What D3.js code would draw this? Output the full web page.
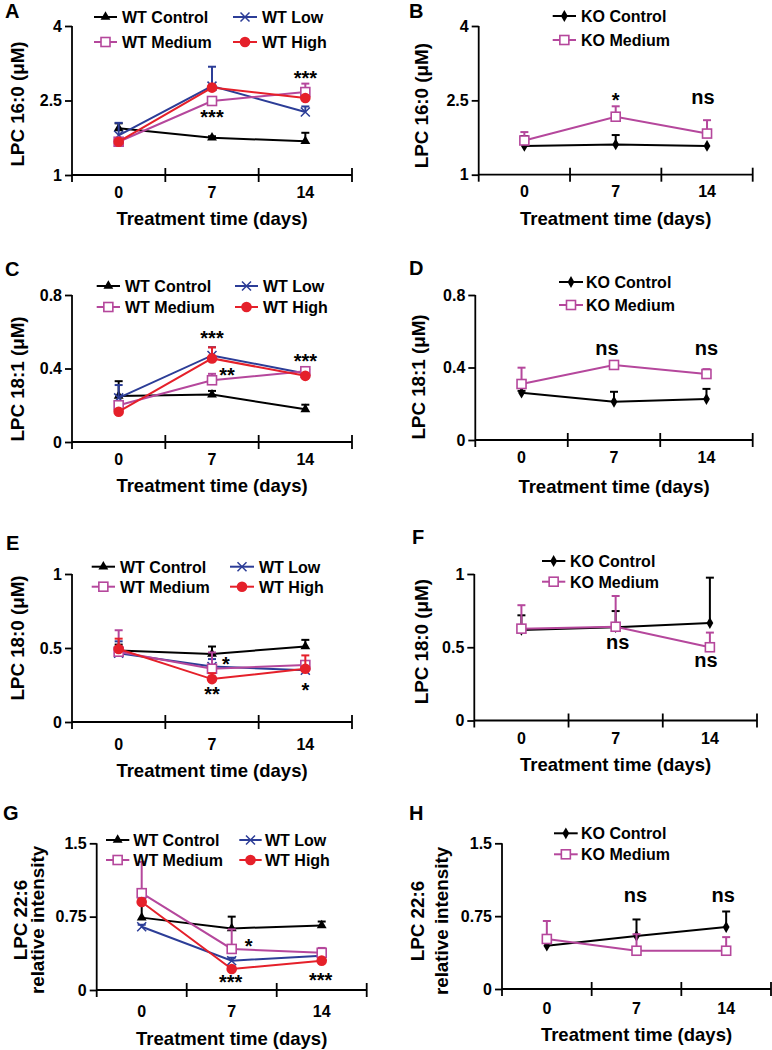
<!DOCTYPE html>
<html><head><meta charset="utf-8">
<script src="https://cdn.jsdelivr.net/npm/d3@7"></script>
<style>
html,body{margin:0;padding:0;background:#fff;}
svg text{font-family:"Liberation Sans",Arial,Helvetica,sans-serif;font-weight:bold;fill:#000;}
</style></head>
<body>
<svg id="chart" width="772" height="1050"></svg>
<script>
// ---------- data ----------
const days = ["0", "7", "14"];
const wtNames = ["WT Control", "WT Low", "WT Medium", "WT High"];
const koNames = ["KO Control", "KO Medium"];
const xTitle = "Treatment time (days)";

// LPC 16:0 (A: WT, B: KO)  rows follow wtNames / koNames
const A_mean = [[1.94, 1.75, 1.68], [1.80, 2.79, 2.27], [1.67, 2.49, 2.67], [1.67, 2.76, 2.55]];
const A_err  = [[0.10, 0.03, 0.17], [0.25, 0.39, 0.11], [0.05, 0.05, 0.17], [0.03, 0.05, 0.04]];
const B_mean = [[1.58, 1.61, 1.58], [1.69, 2.17, 1.83]];
const B_err  = [[0.20, 0.19, 0.00], [0.17, 0.21, 0.27]];
const AB_yTicks = [1, 2.5, 4];

// LPC 18:1 (C: WT, D: KO)
const C_mean = [[0.251, 0.258, 0.178], [0.24, 0.471, 0.373], [0.20, 0.336, 0.385], [0.165, 0.455, 0.36]];
const C_err  = [[0.08, 0.02, 0.025], [0.07, 0.045, 0.01], [0.01, 0.035, 0.02], [0.01, 0.06, 0.01]];
const D_mean = [[0.261, 0.211, 0.226], [0.309, 0.414, 0.364]];
const D_err  = [[0.01, 0.055, 0.056], [0.09, 0.02, 0.027]];
const CD_yTicks = [0, 0.4, 0.8];

// LPC 18:0 (E: WT, F: KO)
const E_mean = [[0.483, 0.46, 0.51], [0.465, 0.375, 0.35], [0.475, 0.36, 0.385], [0.493, 0.29, 0.36]];
const E_err  = [[0.04, 0.05, 0.045], [0.08, 0.05, 0.01], [0.145, 0.11, 0.02], [0.07, 0.04, 0.09]];
const F_mean = [[0.618, 0.637, 0.665], [0.627, 0.64, 0.50]];
const F_err  = [[0.10, 0.11, 0.31], [0.16, 0.21, 0.10]];
const EF_yTicks = [0, 0.5, 1];

// LPC 22:6 (G: WT, H: KO)
const G_mean = [[0.74, 0.63, 0.66], [0.647, 0.30, 0.35], [0.99, 0.42, 0.38], [0.90, 0.215, 0.30]];
const G_err  = [[0.20, 0.12, 0.04], [0.02, 0.03, 0.01], [0.32, 0.20, 0.05], [0.02, 0.01, 0.02]];
const H_mean = [[0.446, 0.546, 0.638], [0.515, 0.394, 0.394]];
const H_err  = [[0.11, 0.17, 0.16], [0.185, 0.17, 0.14]];
const GH_yTicks = [0, 0.75, 1.5];

// significance labels
const A_sig = ["***", "***"];
const B_sig = ["*", "ns"];
const C_sig = ["***", "**", "***"];
const D_sig = ["ns", "ns"];
const E_sig = ["*", "**", "*"];
const F_sig = ["ns", "ns"];
const G_sig = ["*", "***", "***"];
const H_sig = ["ns", "ns"];

// ---------- styles ----------
const BLUE = "#2c3d97", MAG = "#b5479c", RED = "#e5202a";
const wtStyle = [
  {color: "#000", marker: "triangle"},
  {color: BLUE, marker: "x"},
  {color: MAG, marker: "square"},
  {color: RED, marker: "circle"}
];
const koStyle = [
  {color: "#000", marker: "diamond"},
  {color: MAG, marker: "square"}
];

const wtLegend = (c1, c2, r1, r2) => ({pos: [[c1, r1], [c2, r1], [c1, r2], [c2, r2]]});
const koLegend = (c, r1, r2) => ({pos: [[c, r1], [c, r2]]});

const panels = [
  {id: "A", names: wtNames, style: wtStyle, mean: A_mean, err: A_err, ticks: AB_yTicks,
   box: {l: 72, r: 352, t: 26, b: 175}, ylab: [["LPC 16:0 (\u03bcM)", 17]], ylabY: 104,
   label: [5, 11], legend: wtLegend([94, 117, 122], [233, 257, 262], 17, 42),
   notes: [[A_sig[0], 1, 2.25, 0], [A_sig[1], 2, 3.03, 0]], tickOff: 17, titleOff: 43.3},
  {id: "B", names: koNames, style: koStyle, mean: B_mean, err: B_err, ticks: AB_yTicks,
   box: {l: 478.7, r: 752.7, t: 26, b: 174.7}, ylab: [["LPC 16:0 (\u03bcM)", 421.7]], ylabY: 105.7,
   label: [409, 11], legend: koLegend([552.7, 576, 581], 16, 40),
   notes: [[B_sig[0], 1, 2.59, 0], [B_sig[1], 2, 2.53, -4]], tickOff: 17, titleOff: 43.3},
  {id: "C", names: wtNames, style: wtStyle, mean: C_mean, err: C_err, ticks: CD_yTicks,
   box: {l: 72, r: 352, t: 295, b: 442}, ylab: [["LPC 18:1 (\u03bcM)", 17]], ylabY: 379,
   label: [5, 269], legend: wtLegend([96.7, 120, 125], [235, 258, 263], 286, 307),
   notes: [[C_sig[0], 1, 0.587, 0], [C_sig[1], 1, 0.387, 15], [C_sig[2], 2, 0.463, 0]], tickOff: 17, titleOff: 43.3},
  {id: "D", names: koNames, style: koStyle, mean: D_mean, err: D_err, ticks: CD_yTicks,
   box: {l: 475.3, r: 752.7, t: 295, b: 440}, ylab: [["LPC 18:1 (\u03bcM)", 418.5]], ylabY: 377,
   label: [409, 267.5], legend: koLegend([559, 583, 586], 282, 305),
   notes: [[D_sig[0], 1, 0.497, -7], [D_sig[1], 2, 0.497, 0]], tickOff: 17, titleOff: 46},
  {id: "E", names: wtNames, style: wtStyle, mean: E_mean, err: E_err, ticks: EF_yTicks,
   box: {l: 72, r: 352, t: 574, b: 722}, ylab: [["LPC 18:0 (\u03bcM)", 17]], ylabY: 638,
   label: [6, 543], legend: wtLegend([91.7, 115, 120], [230, 254, 259], 566.7, 586.7),
   notes: [[E_sig[0], 1, 0.42, 14], [E_sig[1], 1, 0.218, 0], [E_sig[2], 2, 0.245, 0]], tickOff: 22.6, titleOff: 48.3},
  {id: "F", names: koNames, style: koStyle, mean: F_mean, err: F_err, ticks: EF_yTicks,
   box: {l: 474.3, r: 757, t: 574, b: 720.5}, ylab: [["LPC 18:0 (\u03bcM)", 421.7]], ylabY: 641.7,
   label: [412, 536.7], legend: koLegend([542, 565.3, 570], 561, 581.7),
   notes: [[F_sig[0], 1, 0.523, 2], [F_sig[1], 2, 0.402, -4]], tickOff: 17.7, titleOff: 43.3},
  {id: "G", names: wtNames, style: wtStyle, mean: G_mean, err: G_err, ticks: GH_yTicks,
   box: {l: 96.7, r: 366.7, t: 843.3, b: 990}, ylab: [["LPC 22:6", 20], ["relative intensity", 37.7]], ylabY: 920,
   label: [3, 812.5], legend: wtLegend([106, 129.3, 133.3], [239.3, 261.7, 265], 840, 860),
   notes: [[G_sig[0], 1, 0.494, 17], [G_sig[1], 1, 0.123, -1], [G_sig[2], 2, 0.146, -1]], tickOff: 21, titleOff: 48.3},
  {id: "H", names: koNames, style: koStyle, mean: H_mean, err: H_err, ticks: GH_yTicks,
   box: {l: 502, r: 771, t: 843.3, b: 989}, ylab: [["LPC 22:6", 417.7], ["relative intensity", 441]], ylabY: 921,
   label: [409, 812.5], legend: koLegend([554, 577.7, 581], 833.3, 854.3),
   notes: [[H_sig[0], 1, 0.95, -1], [H_sig[1], 2, 0.95, -3]], tickOff: 19.3, titleOff: 45.3}
];

const svg = d3.select("#chart");

function drawMarker(g, type, color, cx, cy) {
  if (type === "triangle") {
    g.append("path").attr("d", d3.symbol(d3.symbolTriangle, 42)())
      .attr("transform", `translate(${cx},${cy})`).attr("fill", color);
  } else if (type === "diamond") {
    g.append("path").attr("d", d3.symbol(d3.symbolDiamond, 40)())
      .attr("transform", `translate(${cx},${cy})`).attr("fill", color);
  } else if (type === "square") {
    g.append("rect").attr("x", cx - 4.5).attr("y", cy - 4.5).attr("width", 9).attr("height", 9)
      .attr("fill", "#fff").attr("stroke", color).attr("stroke-width", 1.6);
  } else if (type === "circle") {
    g.append("circle").attr("cx", cx).attr("cy", cy).attr("r", 5.3).attr("fill", color);
  } else if (type === "x") {
    const s = 4.5;
    g.append("path").attr("d", `M${cx - s},${cy - s}L${cx + s},${cy + s}M${cx - s},${cy + s}L${cx + s},${cy - s}`)
      .attr("stroke", color).attr("stroke-width", 1.5).attr("fill", "none");
  }
}

panels.forEach(p => {
  const g = svg.append("g");
  const {l, r, t, b} = p.box;
  const x = d3.scaleBand().domain(days).range([l, r]).paddingInner(0).paddingOuter(0);
  const xc = d => x(d) + x.bandwidth() / 2;
  const dom = d3.extent(p.ticks);
  const y = d3.scaleLinear().domain(dom).range([b, t]);

  // y axis
  const ya = g.append("g").attr("transform", `translate(${l},0)`)
    .call(d3.axisLeft(y).tickValues(p.ticks).tickSize(7).tickSizeOuter(0).tickPadding(3).tickFormat(d => String(d)));
  ya.select(".domain").remove();
  ya.selectAll(".tick line").attr("stroke", "#000").attr("stroke-width", 1.8);
  ya.selectAll(".tick text").attr("font-size", 16).style("font-weight", "bold").attr("fill", "#000");
  g.append("line").attr("x1", l).attr("x2", l).attr("y1", t).attr("y2", b + 7)
    .attr("stroke", "#000").attr("stroke-width", 1.8);

  // x axis
  const xa = g.append("g").attr("transform", `translate(0,${b})`)
    .call(d3.axisBottom(x).tickSize(0).tickPadding(0));
  xa.select(".domain").remove();
  xa.selectAll(".tick text").attr("font-size", 16).style("font-weight", "bold")
    .attr("dy", null).attr("y", p.tickOff + 5.8).attr("fill", "#000");
  g.append("line").attr("x1", l).attr("x2", r).attr("y1", b).attr("y2", b)
    .attr("stroke", "#000").attr("stroke-width", 1.8);
  days.forEach(d => {
    const xe = x(d) + x.bandwidth();
    g.append("line").attr("x1", xe).attr("x2", xe).attr("y1", b - 7).attr("y2", b + 7)
      .attr("stroke", "#000").attr("stroke-width", 1.8);
  });

  // axis titles
  g.append("text").attr("x", (l + r) / 2).attr("y", b + p.titleOff + 6.7)
    .attr("text-anchor", "middle").attr("font-size", 18.5).text(xTitle);
  p.ylab.forEach(([txt, cx]) => {
    g.append("text").attr("transform", `translate(${cx},${p.ylabY}) rotate(-90)`)
      .attr("x", 0).attr("y", 6.6).attr("text-anchor", "middle").attr("font-size", 18.8).text(txt);
  });

  // panel label
  g.append("text").attr("x", p.label[0]).attr("y", p.label[1] + 7.2).attr("font-size", 20).text(p.id);

  // series
  p.mean.forEach((vals, si) => {
    const st = p.style[si];
    const pts = days.map((d, i) => [xc(d), y(vals[i])]);
    g.append("path").attr("d", d3.line()(pts)).attr("fill", "none")
      .attr("stroke", st.color).attr("stroke-width", 2);
    days.forEach((d, i) => {
      const e = p.err[si][i];
      if (e > 0) {
        const xp = xc(d), y0 = y(vals[i]), y1 = y(vals[i] + e);
        g.append("line").attr("x1", xp).attr("x2", xp).attr("y1", y0).attr("y2", y1)
          .attr("stroke", st.color).attr("stroke-width", 2);
        g.append("line").attr("x1", xp - 4).attr("x2", xp + 4).attr("y1", y1).attr("y2", y1)
          .attr("stroke", st.color).attr("stroke-width", 2);
      }
    });
    days.forEach((d, i) => drawMarker(g, st.marker, st.color, xc(d), y(vals[i])));
  });

  // legend
  p.names.forEach((name, si) => {
    const st = p.style[si];
    const [[x1, x2, xt], ry] = p.legend.pos[si];
    g.append("line").attr("x1", x1).attr("x2", x2).attr("y1", ry).attr("y2", ry)
      .attr("stroke", st.color).attr("stroke-width", 2);
    drawMarker(g, st.marker, st.color, (x1 + x2) / 2, ry);
    g.append("text").attr("x", xt).attr("y", ry + 5.8).attr("font-size", 16).text(name);
  });

  // significance notes
  p.notes.forEach(([txt, di, v, dx]) => {
    const fs = 20;
    const off = txt.includes("*") ? 0.56 * fs : 0.26 * fs;
    g.append("text").attr("x", xc(days[di]) + dx).attr("y", y(v) + off)
      .attr("text-anchor", "middle").attr("font-size", fs).text(txt);
  });
});
</script>
</body></html>
